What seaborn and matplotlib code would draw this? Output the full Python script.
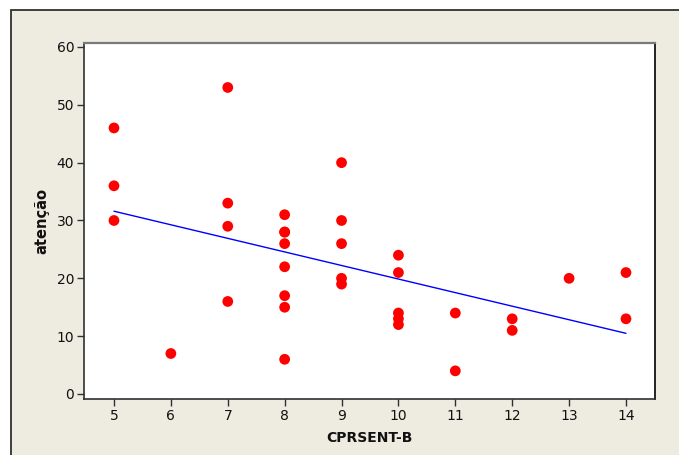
import matplotlib
matplotlib.use("Agg")
import matplotlib.pyplot as plt
import seaborn as sns
import pandas as pd
from matplotlib.patches import Rectangle

# Data
cprsent_b = [5, 5, 5,
             6,
             7, 7, 7, 7,
             8, 8, 8, 8, 8, 8, 8, 8,
             9, 9, 9, 9, 9,
             10, 10, 10, 10, 10,
             11, 11,
             12, 12,
             13,
             14, 14]
atencao = [46, 36, 30,
           7,
           53, 33, 29, 16,
           31, 28, 28, 26, 22, 17, 15, 6,
           40, 30, 26, 20, 19,
           24, 21, 14, 13, 12,
           14, 4,
           13, 11,
           20,
           21, 13]
x_ticks = [5, 6, 7, 8, 9, 10, 11, 12, 13, 14]
y_ticks = [0, 10, 20, 30, 40, 50, 60]

df = pd.DataFrame({"CPRSENT-B": cprsent_b, "atenção": atencao})

sns.set_theme(style="white")
plt.rcParams['font.family'] = ['DejaVu Sans']

fig = plt.figure(figsize=(6.79, 4.55), dpi=100)
fig.patch.set_facecolor("white")
bg = Rectangle((11 / 679, -0.05), 1.2, (455 - 10) / 455 + 0.05,
               transform=fig.transFigure, facecolor="#EEEBE1",
               edgecolor="#303030", linewidth=1.3, zorder=-10)
fig.patches.append(bg)

ax = fig.add_axes([84 / 679, (455 - 399) / 455, (655 - 84) / 679, (399 - 43) / 455])
ax.set_zorder(1)
ax.set_facecolor("white")

sns.regplot(data=df, x="CPRSENT-B", y="atenção", ax=ax, ci=None,
            scatter_kws=dict(color="#FF0000", s=60, alpha=1, edgecolor="none", zorder=3),
            line_kws=dict(color="#0000FF", linewidth=1.0, zorder=2))

ax.set_xlim(4.473, 14.51)
ax.set_ylim(-0.865, 60.69)
ax.set_xticks(x_ticks)
ax.set_yticks(y_ticks)
ax.tick_params(axis="both", direction="out", length=5, width=1, color="#303030",
               labelsize=10, pad=2, labelcolor="#111111",
               bottom=True, left=True, top=False, right=False)
for name, sp in ax.spines.items():
    sp.set_visible(True)
    sp.set_linewidth(1.2)
    sp.set_color("#303030")
ax.spines["top"].set_color("#7a7a7a")
ax.spines["top"].set_linewidth(1.6)
ax.spines["right"].set_color("#000000")

ax.set_xlabel("CPRSENT-B", fontsize=10, fontweight="bold", color="#111111", labelpad=6)
ax.set_ylabel("atenção", fontsize=10.5, fontweight="bold", color="#111111", labelpad=5)

fig.savefig("out.png", dpi=100)
